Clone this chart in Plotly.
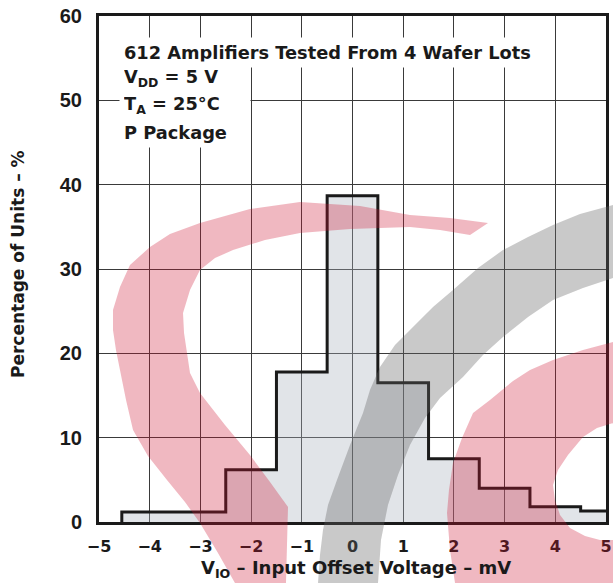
import plotly.graph_objects as go

# ---- data ----
bin_edges = [-4.55, -2.5, -1.5, -0.5, 0.5, 1.5, 2.5, 3.5, 4.5, 5.0]
percent = [1.2, 6.2, 17.8, 38.7, 16.5, 7.5, 4.0, 1.8, 1.3]
x_ticks = [-5, -4, -3, -2, -1, 0, 1, 2, 3, 4, 5]
x_tick_text = ["−5", "−4", "−3", "−2", "−1", "0", "1", "2", "3", "4", "5"]
y_ticks = [0, 10, 20, 30, 40, 50, 60]
notes = ["612 Amplifiers Tested From 4 Wafer Lots",
         "V<sub>DD</sub> = 5 V",
         "T<sub>A</sub> = 25°C",
         "P Package"]

# step outline
step_x = [bin_edges[0]] + bin_edges
step_y = [0] + percent + [percent[-1]]

W, H = 613, 583
PX_L, PX_R, PX_T, PX_B = 99, 606, 16, 522   # plot area in page pixels
L, T = PX_L, PX_T
PW, PH = PX_R - PX_L, PX_B - PX_T
R, B = W - L - PW, H - T - PH
ARIAL = "Liberation Sans, Arial, sans-serif"
WIDE = "DejaVu Sans, Verdana, sans-serif"
INK = "#1a1a1a"


def px(x, y):
    return (x - PX_L) / PW, (PX_B - y) / PH


def path_from(pts, close=True):
    s = ""
    for i, (x, y) in enumerate(pts):
        u, v = px(x, y)
        s += ("M" if i == 0 else "L") + f"{u:.4f},{v:.4f}"
    return s + ("Z" if close else "")


# decorative watermark outlines (page pixel space)
red_crescent = [(488, 223), (450, 218), (410, 215), (360, 206), (300, 202), (250, 209), (200, 223),
                (170, 234), (150, 247), (130, 265), (120, 287), (113, 310), (113, 330), (116, 350),
                (120, 370), (126, 400), (133, 430), (148, 456), (167, 480), (185, 502), (200, 523),
                (218, 553), (235, 583), (286, 583), (287, 545), (288, 507), (270, 482), (250, 455),
                (225, 425), (200, 393), (190, 373), (187, 353), (184, 333), (183, 313), (190, 290),
                (200, 270), (215, 258), (233, 250), (265, 240), (300, 233), (350, 229), (410, 227),
                (440, 230), (470, 235)]
grey_arc = [(613, 205), (580, 214), (553, 225), (528, 237), (503, 250), (478, 268), (453, 290),
            (433, 307), (413, 327), (395, 345), (380, 367), (370, 390), (363, 413), (350, 445),
            (337, 480), (328, 505), (323, 530), (320, 555), (318, 583), (378, 583), (381, 540),
            (388, 505), (398, 475), (410, 445), (425, 418), (440, 398), (463, 377), (483, 355),
            (503, 337), (528, 317), (553, 300), (583, 288), (613, 278)]
red_blob = [(613, 342), (583, 350), (553, 360), (530, 370), (513, 381), (490, 400), (473, 413),
            (462, 438), (453, 463), (449, 490), (447, 513), (450, 550), (455, 583), (613, 583)]
red_hole = [(613, 423), (597, 428), (583, 437), (568, 455), (558, 470), (553, 485), (555, 500),
            (560, 515), (570, 528), (585, 536), (600, 540), (613, 540)][::-1]

fig = go.Figure()
fig.add_trace(go.Scatter(
    x=step_x, y=step_y, mode="lines", line=dict(shape="hv", color=INK, width=3),
    fill="tozeroy", fillcolor="rgba(170,178,190,0.35)", hoverinfo="skip", showlegend=False))

shapes = [
    dict(type="path", path=path_from(red_crescent), xref="paper", yref="paper",
         fillcolor="rgba(204,20,50,0.3)", line=dict(width=0), layer="above"),
    dict(type="path", path=path_from(grey_arc), xref="paper", yref="paper",
         fillcolor="rgba(100,100,100,0.35)", line=dict(width=0), layer="above"),
    dict(type="path", path=path_from(red_blob) + path_from(red_hole), xref="paper", yref="paper",
         fillcolor="rgba(204,20,50,0.3)", line=dict(width=0), layer="above"),
]

annotations = []
ys = [52, 78, 105, 132]
for i, (t, yy) in enumerate(zip(notes, ys)):
    u, v = px(119, yy)
    a = dict(text=t, xref="paper", yref="paper", x=u, y=v, xanchor="left", yanchor="middle",
             showarrow=False, align="left",
             font=dict(family=WIDE, size=17.8, color=INK, weight="bold"),
             bgcolor="white", borderpad=4)
    if i > 0:
        a["width"] = 122
    annotations.append(a)

# axis titles
u, v = px(18, 264)
annotations.append(dict(text="Percentage of Units – %", xref="paper", yref="paper", x=u, y=v,
                        textangle=-90, showarrow=False, xanchor="center", yanchor="middle",
                        font=dict(family=WIDE, size=17, color=INK, weight="bold")))
u, v = px(356, 569)
annotations.append(dict(text="V<sub>IO</sub> – Input Offset Voltage – mV", xref="paper", yref="paper",
                        x=u, y=v, showarrow=False, xanchor="center", yanchor="middle",
                        font=dict(family=WIDE, size=18, color=INK, weight="bold")))

fig.update_layout(
    width=W, height=H, margin=dict(l=L, r=R, t=T, b=B, pad=0),
    paper_bgcolor="white", plot_bgcolor="white",
    shapes=shapes, annotations=annotations, showlegend=False,
    xaxis=dict(range=[-5, 5.0001], tickvals=x_ticks, ticktext=x_tick_text, showgrid=True,
               gridcolor="#3a3a3a", gridwidth=1, zeroline=False, showline=True, mirror=True,
               linecolor=INK, linewidth=3, ticks="", ticklabelstandoff=8, automargin=False,
               ticklabeloverflow="allow",
               tickfont=dict(family=WIDE, size=16, color=INK, weight="bold")),
    yaxis=dict(range=[0, 60.0001], tickvals=y_ticks, showgrid=True, gridcolor="#3a3a3a", gridwidth=1,
               zeroline=False, showline=True, mirror=True, linecolor=INK, linewidth=3,
               ticks="", ticklabelstandoff=10, automargin=False, ticklabeloverflow="allow",
               tickfont=dict(family=ARIAL, size=20, color=INK, weight="bold")),
)
fig.write_html("out.html", config={"displayModeBar": False},
               post_script="document.body.style.margin='0';")
